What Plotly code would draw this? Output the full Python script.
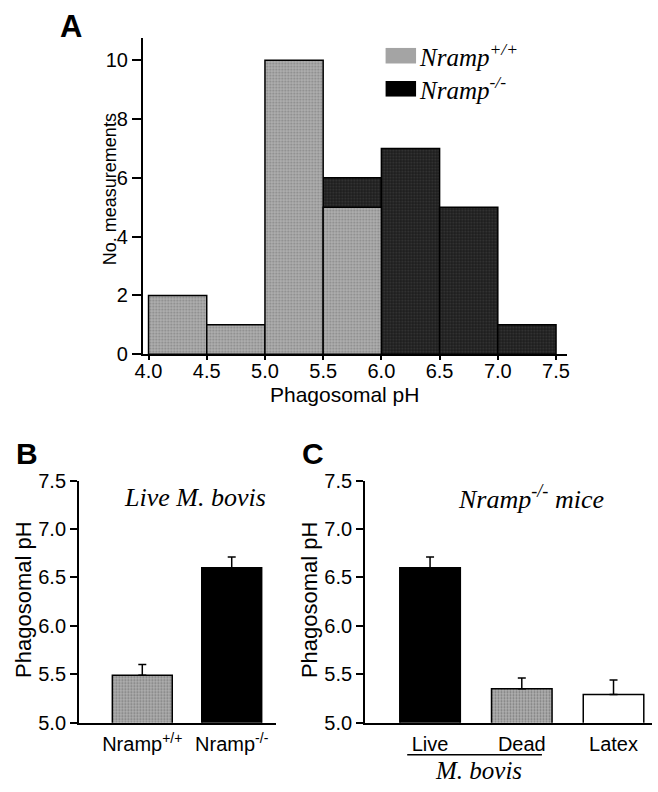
import plotly.graph_objects as go

W, H = 658, 792

# ---------------- Panel A data (histogram of phagosomal pH) ----------------
wt_bin_starts = [4.0, 4.5, 5.0, 5.5]
wt_counts = [2, 1, 10, 5]
ko_bin_starts = [5.5, 6.0, 6.5, 7.0]
ko_counts = [6, 7, 5, 1]
bin_width = 0.5
a_xticks = [4.0, 4.5, 5.0, 5.5, 6.0, 6.5, 7.0, 7.5]
a_yticks = [0, 2, 4, 6, 8, 10]

# ---------------- Panel B data ----------------
b_labels = ["Nramp<sup>+/+</sup>", "Nramp<sup>-/-</sup>"]
b_values = [5.49, 6.60]
b_errors = [0.11, 0.11]

# ---------------- Panel C data ----------------
c_labels = ["Live", "Dead", "Latex"]
c_values = [6.60, 5.35, 5.29]
c_errors = [0.11, 0.11, 0.15]

ph_ticks = [5.0, 5.5, 6.0, 6.5, 7.0, 7.5]

SANS = "Liberation Sans, Arial, sans-serif"
SERIF = "Liberation Serif, Times New Roman, serif"

LIGHT_BG = "#b0b0b0"
LIGHT_FG = "#5a5a5a"
DARK_BG = "#1c1c1c"
DARK_FG = "#555555"


def px(x):
    return x / W


def py(y):
    return 1 - y / H


fig = go.Figure()

# Panel A: knockout behind, wild type in front
fig.add_trace(go.Bar(
    x=ko_bin_starts, y=ko_counts, width=bin_width, offset=0,
    marker=dict(color=DARK_BG, line=dict(color="black", width=1.5),
                pattern=dict(shape=".", fgcolor=DARK_FG, size=3, solidity=0.35)),
    xaxis="x", yaxis="y", showlegend=False, name="Nramp-/-"))
fig.add_trace(go.Bar(
    x=wt_bin_starts, y=wt_counts, width=bin_width, offset=0,
    marker=dict(color=LIGHT_BG, line=dict(color="black", width=1.5),
                pattern=dict(shape=".", fgcolor=LIGHT_FG, size=3, solidity=0.35)),
    xaxis="x", yaxis="y", showlegend=False, name="Nramp+/+"))

# Panel B
fig.add_trace(go.Bar(
    x=b_labels, y=b_values, width=0.67,
    marker=dict(color=[LIGHT_BG, "black"], line=dict(color="black", width=1.5),
                pattern=dict(shape=[".", ""], fgcolor=LIGHT_FG, size=3, solidity=0.35)),
    error_y=dict(type="data", symmetric=False, array=b_errors, arrayminus=[0] * len(b_errors),
                 color="black", thickness=1.5, width=4),
    xaxis="x2", yaxis="y2", showlegend=False))

# Panel C
fig.add_trace(go.Bar(
    x=c_labels, y=c_values, width=0.66,
    marker=dict(color=["black", LIGHT_BG, "white"], line=dict(color="black", width=1.5),
                pattern=dict(shape=["", ".", ""], fgcolor=LIGHT_FG, size=3, solidity=0.35)),
    error_y=dict(type="data", symmetric=False, array=c_errors, arrayminus=[0] * len(c_errors),
                 color="black", thickness=1.5, width=4),
    xaxis="x3", yaxis="y3", showlegend=False))

axis_common = dict(showline=True, linecolor="black", linewidth=1.5, showgrid=False,
                   zeroline=False, ticks="outside", tickcolor="black", tickwidth=1.5,
                   tickfont=dict(family=SANS, size=20, color="black"))

fig.update_layout(
    width=W, height=H, margin=dict(l=0, r=0, t=0, b=0),
    paper_bgcolor="white", plot_bgcolor="white", barmode="overlay",
    xaxis=dict(axis_common, domain=[px(137), px(568)], range=[3.95, 7.59],
               tickvals=a_xticks, ticktext=[f"{v:.1f}" for v in a_xticks], ticklen=4,
               ticklabelstandoff=-6, anchor="y"),
    yaxis=dict(axis_common, domain=[py(353), py(28)], range=[0, 10.75],
               tickvals=a_yticks, ticklen=9, anchor="x"),
    xaxis2=dict(axis_common, domain=[px(72), px(273)], range=[-0.71, 1.5],
                ticklen=3, tickcolor="rgba(0,0,0,0)", anchor="y2", type="category"),
    yaxis2=dict(axis_common, domain=[py(732), py(483)], range=[5.0, 7.5],
                tickvals=ph_ticks, ticktext=[f"{v:.1f}" for v in ph_ticks], ticklen=7,
                anchor="x2"),
    xaxis3=dict(axis_common, domain=[px(363), px(655)], range=[-0.71, 2.42],
                ticklen=3, tickcolor="rgba(0,0,0,0)", anchor="y3", type="category"),
    yaxis3=dict(axis_common, domain=[py(732), py(483)], range=[5.0, 7.5],
                tickvals=ph_ticks, ticktext=[f"{v:.1f}" for v in ph_ticks], ticklen=7,
                anchor="x3"),
)

ann = []


def add_text(text, x, y, size, family=SANS, angle=0, xanchor="center", yanchor="middle"):
    ann.append(dict(text=text, x=px(x), y=py(y), xref="paper", yref="paper",
                    showarrow=False, textangle=angle, xanchor=xanchor, yanchor=yanchor,
                    font=dict(family=family, size=size, color="black")))


# panel letters
add_text("<b>A</b>", 64, 16, 31)
add_text("<b>B</b>", 19, 455, 30)
add_text("<b>C</b>", 310, 455, 30)

# axis titles
add_text("No. measurements", 104, 183, 18, angle=-90)
add_text("Phagosomal pH", 342, 394, 21)
add_text("Phagosomal pH", 15, 605, 22, angle=-90)
add_text("Phagosomal pH", 306, 605, 22, angle=-90)

# legend for panel A
add_text("<i>Nramp<sup>+/+</sup></i>", 416, 45, 25, family=SERIF, xanchor="left")
add_text("<i>Nramp<sup>-/-</sup></i>", 416, 79, 25, family=SERIF, xanchor="left")

# panel subtitles
add_text("<i>Live M. bovis</i>", 190, 500, 26, family=SERIF)
add_text("<i>Nramp<sup>-/-</sup> mice</i>", 532, 500, 26, family=SERIF)
add_text("<i>M. bovis</i>", 478, 781, 25, family=SERIF)

fig.update_layout(annotations=ann)

shapes = [
    dict(type="rect", xref="paper", yref="paper", x0=px(384), x1=px(415), y0=py(54), y1=py(38),
         fillcolor="#a4a4a4", line=dict(width=0)),
    dict(type="rect", xref="paper", yref="paper", x0=px(384), x1=px(415), y0=py(88), y1=py(72),
         fillcolor="black", line=dict(width=0)),
    dict(type="line", xref="paper", yref="paper", x0=px(406), x1=px(543), y0=py(765), y1=py(765),
         line=dict(color="black", width=1.5)),
]
fig.update_layout(shapes=shapes)

fig.write_html("out.html", config={"displayModeBar": False},
               post_script="document.body.style.margin='0px';document.body.style.overflow='hidden';")
